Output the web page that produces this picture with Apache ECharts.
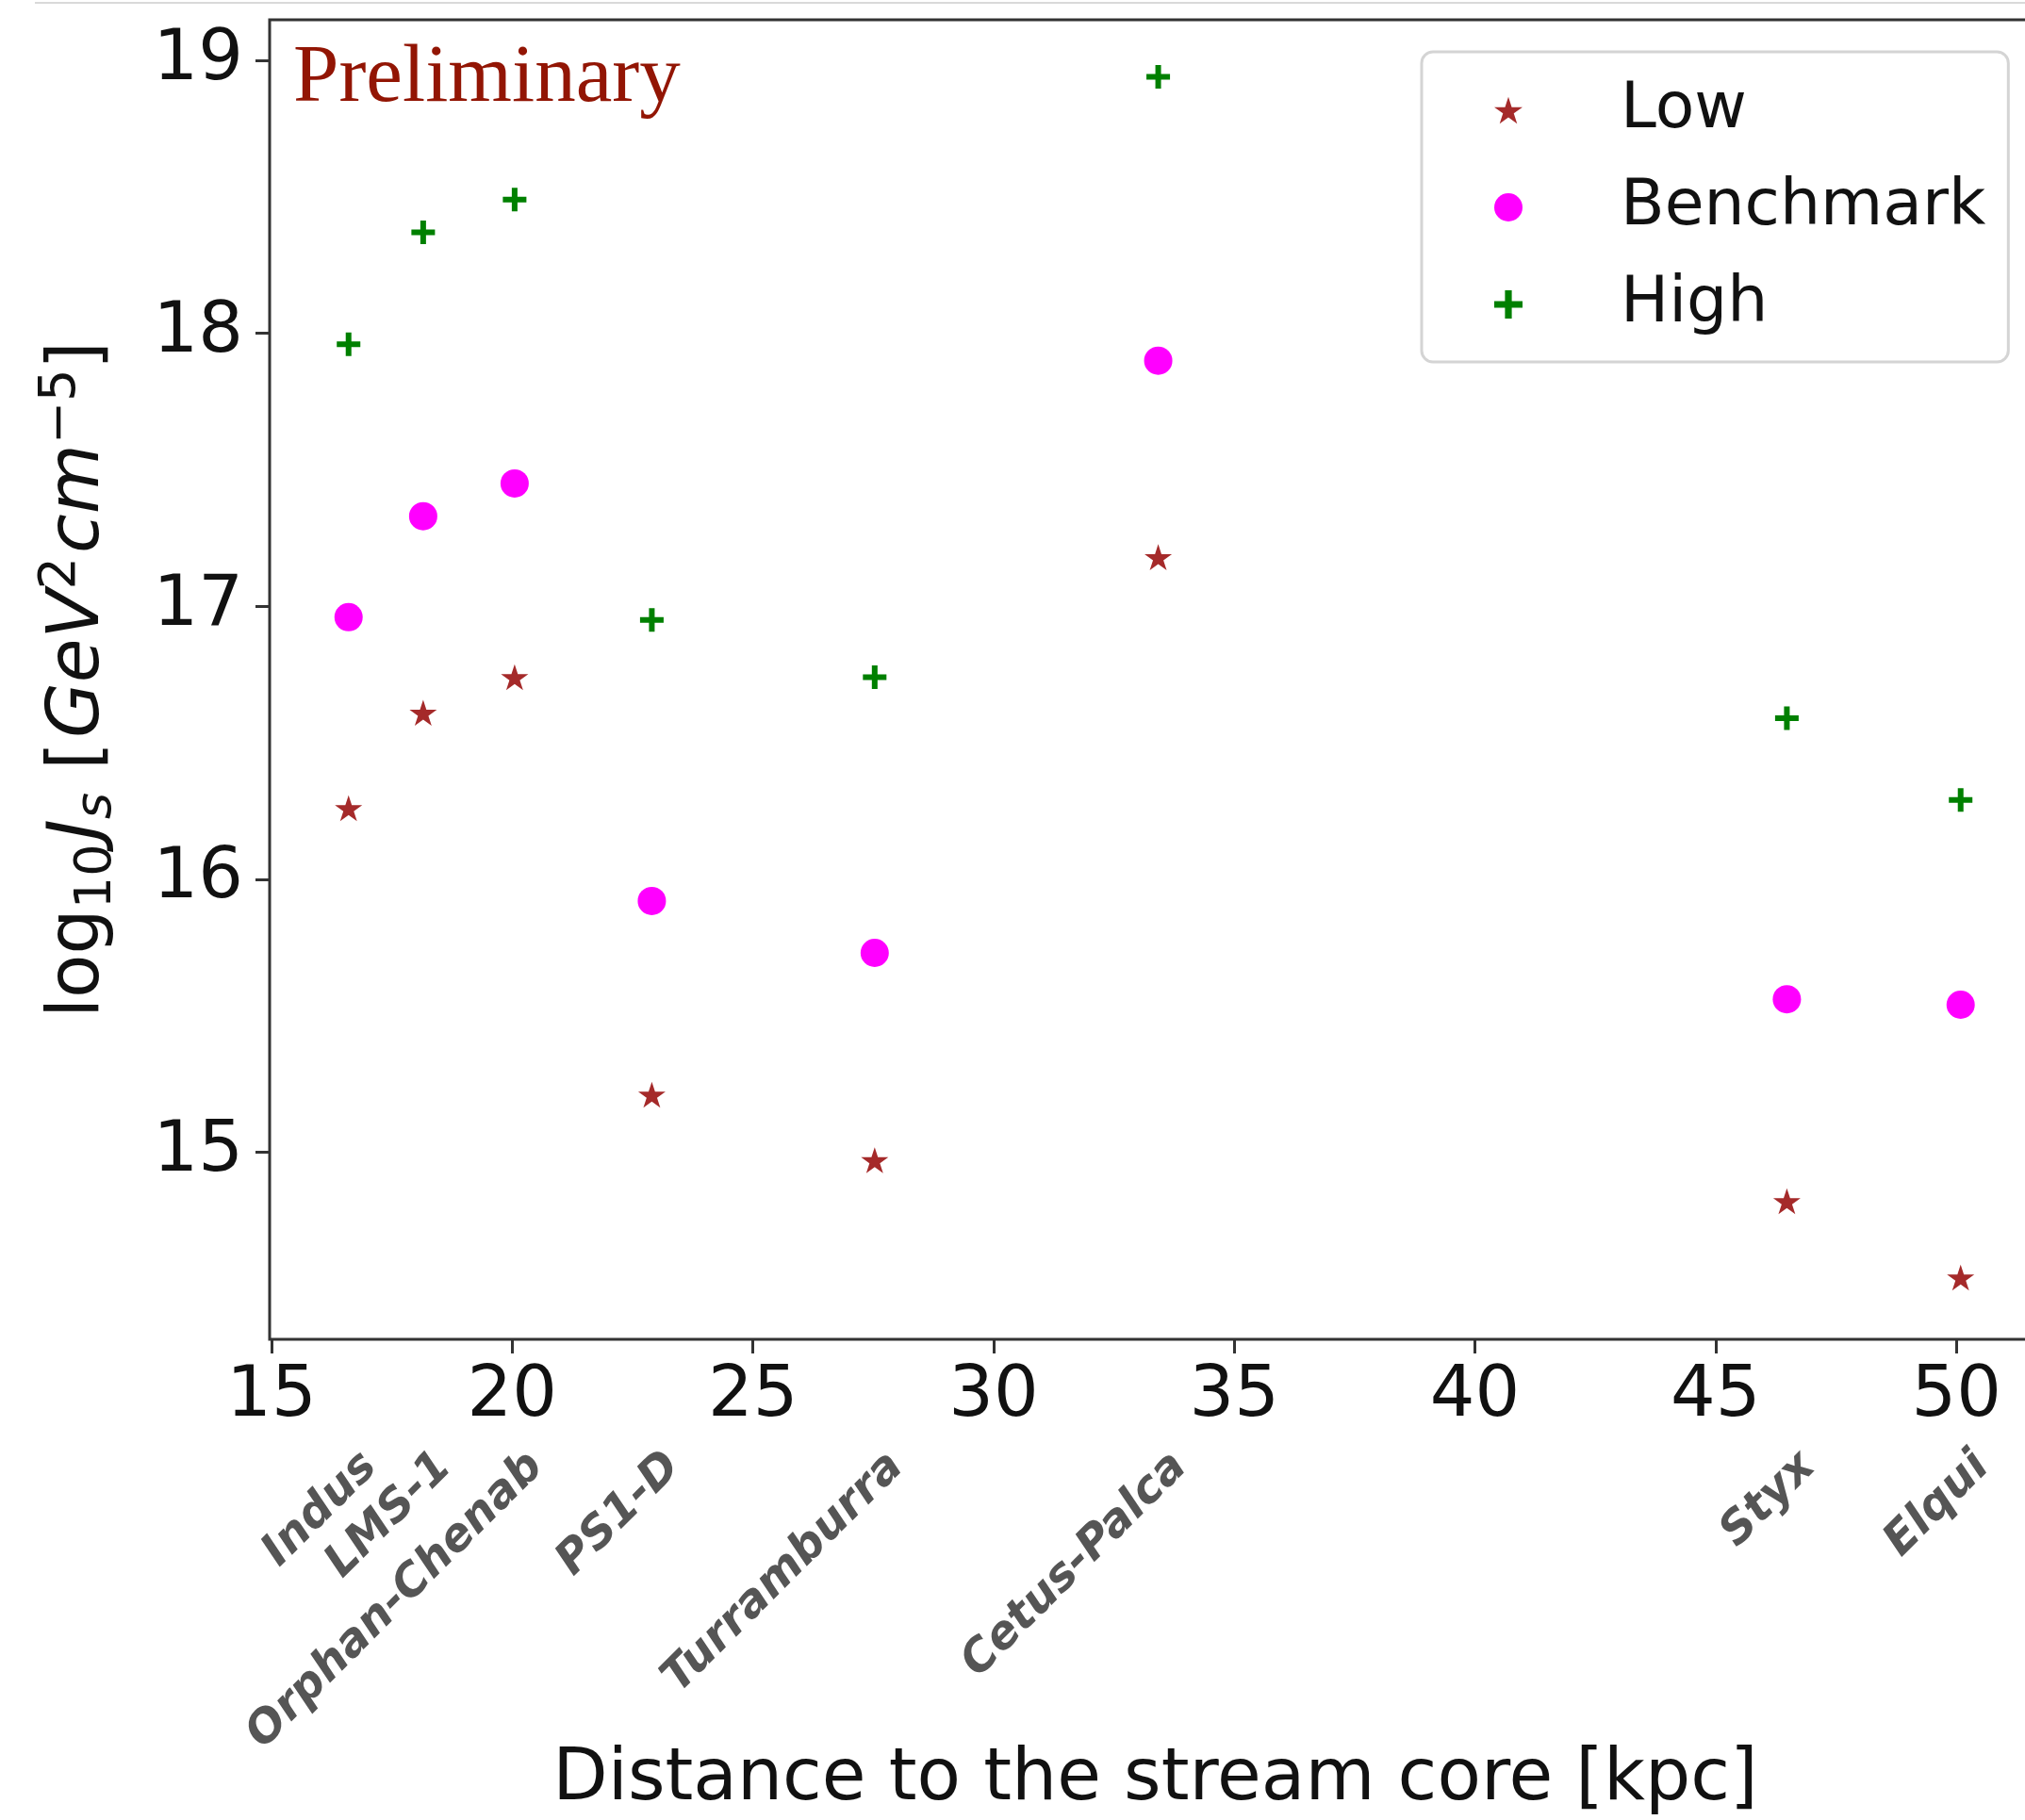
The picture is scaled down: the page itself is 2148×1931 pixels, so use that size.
<!DOCTYPE html>
<html>
<head>
<meta charset="utf-8">
<title>J-factor vs distance to the stream core</title>
<script src="https://cdn.jsdelivr.net/npm/echarts@6/dist/echarts.min.js"></script>
<style>
  html, body { margin: 0; padding: 0; background: #ffffff; overflow: hidden; }
  #chart { width: 2148px; height: 1931px; }
</style>
</head>
<body>
<div id="chart"></div>
<script>
// Stellar streams and their distance to the stream core [kpc]
const streams = ['Indus', 'LMS-1', 'Orphan-Chenab', 'PS1-D', 'Turramburra', 'Cetus-Palca', 'Styx', 'Elqui'];
const distances = [16.60, 18.15, 20.05, 22.90, 27.53, 33.42, 46.48, 50.09];

// log10 J_s for the three density-profile scenarios
const lowJ = [16.26, 16.61, 16.74, 15.21, 14.97, 17.18, 14.82, 14.54];
const benchmarkJ = [16.96, 17.33, 17.45, 15.92, 15.73, 17.90, 15.56, 15.54];
const highJ = [17.96, 18.37, 18.49, 16.95, 16.74, 18.94, 16.59, 16.29];

// Axis ticks
const xTicks = [15, 20, 25, 30, 35, 40, 45, 50];
const yTicks = [15, 16, 17, 18, 19];

const toPoints = (ys) => distances.map((d, i) => [d, ys[i]]);

// Marker shapes: five-pointed star and a thick plus
const STAR = 'path://M100,0L122.45,69.1L195.1,69.1L136.3,111.8L158.8,180.9L100,138.2L41.2,180.9L63.7,111.8L4.9,69.1L77.55,69.1Z';
const PLUS = 'path://M38,0H62V38H100V62H62V100H38V62H0V38H38Z';

const FONT = 'DejaVu Sans';
const AXIS_COLOR = '#333333';
const X_MIN = 14.96;
const X_MAX = 51.76;
// Stream-name labels hang just right of each stream's distance
const NAME_SHIFT = 0.45;

const chart = echarts.init(document.getElementById('chart'), null, { renderer: 'canvas' });

const option = {
  backgroundColor: '#ffffff',
  animation: false,
  grid: {
    left: 286,
    top: 21,
    right: -17,
    bottom: 510,
    show: true,
    borderColor: AXIS_COLOR,
    borderWidth: 3,
    backgroundColor: 'transparent',
    containLabel: false,
    outerBoundsMode: 'none'
  },
  legend: {
    orient: 'vertical',
    left: 1508,
    top: 55,
    padding: [22, 24, 21, 77],
    itemGap: 23,
    itemWidth: 30,
    itemHeight: 30,
    symbolKeepAspect: true,
    backgroundColor: '#ffffff',
    borderColor: '#d4d4d4',
    borderWidth: 3,
    borderRadius: 12,
    textStyle: {
      fontFamily: FONT,
      fontSize: 68,
      color: '#111111',
      lineHeight: 80,
      padding: [0, 0, 0, 99]
    },
    data: ['Low', 'Benchmark', 'High']
  },
  xAxis: [
    {
      type: 'value',
      min: X_MIN,
      max: X_MAX,
      name: 'Distance to the stream core [kpc]',
      nameLocation: 'middle',
      nameGap: 430,
      nameTextStyle: { fontFamily: FONT, fontSize: 76, color: '#111111' },
      axisLine: { show: false },
      axisTick: {
        show: true,
        customValues: xTicks,
        length: 15,
        lineStyle: { color: AXIS_COLOR, width: 3 }
      },
      axisLabel: {
        customValues: xTicks,
        margin: 24,
        fontFamily: FONT,
        fontSize: 75,
        color: '#111111'
      },
      splitLine: { show: false }
    },
    {
      // Stream names placed at each stream's distance
      type: 'value',
      gridIndex: 0,
      position: 'bottom',
      min: X_MIN - NAME_SHIFT,
      max: X_MAX - NAME_SHIFT,
      axisLine: { show: false },
      axisTick: { show: false },
      splitLine: { show: false },
      axisLabel: {
        customValues: distances,
        formatter: (v) => {
          const i = distances.indexOf(v);
          return i >= 0 ? streams[i] : '';
        },
        rotate: 45,
        margin: 128,
        fontFamily: FONT,
        fontSize: 48,
        fontWeight: 'bold',
        fontStyle: 'italic',
        color: '#555555'
      }
    }
  ],
  yAxis: {
    type: 'value',
    min: 14.314,
    max: 19.149,
    name: '{t|log}{sub|10}{it|J}{subi|s}{t| [}{it|GeV}{sup|2}{it|cm}{sup|\u22125}{t|]}',
    nameLocation: 'middle',
    nameGap: 156,
    nameTextStyle: {
      fontFamily: FONT,
      fontSize: 76,
      color: '#111111',
      rich: {
        t: { fontFamily: FONT, fontSize: 76, lineHeight: 92, color: '#111111' },
        it: { fontFamily: FONT, fontSize: 76, lineHeight: 92, fontStyle: 'italic', color: '#111111', padding: [0, 0, 0, 4] },
        sub: { fontFamily: FONT, fontSize: 54, lineHeight: 54, verticalAlign: 'bottom', color: '#111111' },
        subi: { fontFamily: FONT, fontSize: 54, lineHeight: 54, verticalAlign: 'bottom', fontStyle: 'italic', color: '#111111' },
        sup: { fontFamily: FONT, fontSize: 54, lineHeight: 54, verticalAlign: 'top', color: '#111111' }
      }
    },
    axisLine: { show: false },
    axisTick: {
      show: true,
      customValues: yTicks,
      length: 15,
      lineStyle: { color: AXIS_COLOR, width: 3 }
    },
    axisLabel: {
      customValues: yTicks,
      margin: 28,
      fontFamily: FONT,
      fontSize: 75,
      color: '#111111'
    },
    splitLine: { show: false }
  },
  graphic: [
    {
      type: 'line',
      shape: { x1: 37, y1: 3, x2: 2148, y2: 3 },
      style: { stroke: '#d9d9d9', lineWidth: 2 },
      silent: true
    },
    {
      type: 'text',
      x: 311,
      y: 84,
      style: {
        text: 'Preliminary',
        fontFamily: 'Liberation Serif',
        fontSize: 87,
        fill: '#921504',
        align: 'left',
        verticalAlign: 'middle'
      },
      silent: true
    }
  ],
  series: [
    {
      name: 'Low',
      type: 'scatter',
      symbol: STAR,
      symbolSize: 29,
      symbolKeepAspect: true,
      itemStyle: { color: '#a52a2a', opacity: 1 },
      data: toPoints(lowJ)
    },
    {
      name: 'Benchmark',
      type: 'scatter',
      symbol: 'circle',
      symbolSize: 30,
      itemStyle: { color: '#ff00ff', opacity: 1 },
      data: toPoints(benchmarkJ)
    },
    {
      name: 'High',
      type: 'scatter',
      symbol: PLUS,
      symbolSize: 25,
      itemStyle: { color: '#008000', opacity: 1 },
      data: toPoints(highJ)
    }
  ]
};

chart.setOption(option);
</script>
</body>
</html>
